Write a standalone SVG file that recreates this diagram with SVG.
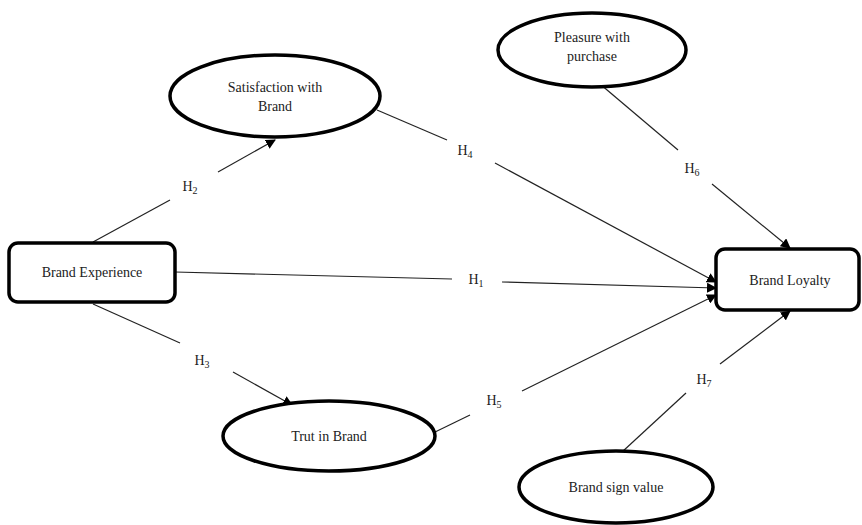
<svg xmlns="http://www.w3.org/2000/svg" width="862" height="525" viewBox="0 0 862 525">
<style>
.node{fill:#fff;stroke:#000;stroke-width:3.5}
.lbl{font-family:"Liberation Serif","DejaVu Serif",serif;font-size:14px;fill:#222;text-anchor:middle}
.h{font-family:"Liberation Serif","DejaVu Serif",serif;font-size:14px;fill:#222;text-anchor:middle}
.sub{font-size:10px}
.c{stroke:#222;stroke-width:1.2;fill:none}
</style>
<defs>
<marker id="arr" viewBox="0 0 10 10" refX="9" refY="5" markerWidth="10" markerHeight="10" markerUnits="userSpaceOnUse" orient="auto">
<path d="M0,0 L10,5 L0,10 z" fill="#000"/>
</marker>
</defs>
<rect width="862" height="525" fill="#fff"/>
<g id="connectors">
<line class="c" x1="93" y1="242" x2="170" y2="200"/>
<line class="c" x1="218" y1="172" x2="275" y2="140" marker-end="url(#arr)"/>
<line class="c" x1="93" y1="304" x2="180" y2="343"/>
<line class="c" x1="233" y1="372" x2="292" y2="405" marker-end="url(#arr)"/>
<line class="c" x1="175" y1="272" x2="452" y2="279"/>
<line class="c" x1="502" y1="282" x2="716" y2="288" marker-end="url(#arr)"/>
<line class="c" x1="377" y1="110" x2="447" y2="140"/>
<line class="c" x1="495" y1="163" x2="716" y2="282" marker-end="url(#arr)"/>
<line class="c" x1="433" y1="433" x2="470" y2="415"/>
<line class="c" x1="522" y1="391" x2="716" y2="295" marker-end="url(#arr)"/>
<line class="c" x1="600" y1="84" x2="678" y2="150"/>
<line class="c" x1="712" y1="184" x2="790" y2="248" marker-end="url(#arr)"/>
<line class="c" x1="622" y1="452" x2="686" y2="393"/>
<line class="c" x1="720" y1="364" x2="790" y2="311" marker-end="url(#arr)"/>
<text class="h" x="190" y="191">H<tspan class="sub" dy="3">2</tspan></text>
<text class="h" x="202" y="365">H<tspan class="sub" dy="3">3</tspan></text>
<text class="h" x="476" y="284">H<tspan class="sub" dy="3">1</tspan></text>
<text class="h" x="465" y="155">H<tspan class="sub" dy="3">4</tspan></text>
<text class="h" x="494" y="405">H<tspan class="sub" dy="3">5</tspan></text>
<text class="h" x="692" y="173">H<tspan class="sub" dy="3">6</tspan></text>
<text class="h" x="704" y="384">H<tspan class="sub" dy="3">7</tspan></text>
</g>
<g id="satisfaction">
<ellipse class="node" cx="275" cy="96" rx="105" ry="41"/>
<text class="lbl" x="275" y="92">Satisfaction with</text>
<text class="lbl" x="275" y="111">Brand</text>
</g>
<g id="pleasure">
<ellipse class="node" cx="592" cy="50" rx="94" ry="37"/>
<text class="lbl" x="592" y="42">Pleasure with</text>
<text class="lbl" x="592" y="61">purchase</text>
</g>
<g id="brand-experience">
<rect class="node" x="9" y="243" width="166" height="59" rx="9"/>
<text class="lbl" x="92" y="277">Brand Experience</text>
</g>
<g id="brand-loyalty">
<rect class="node" x="716" y="249" width="143" height="61" rx="9"/>
<text class="lbl" x="790" y="285">Brand Loyalty</text>
</g>
<g id="trust">
<ellipse class="node" cx="329" cy="436" rx="106" ry="35"/>
<text class="lbl" x="329" y="441">Trut in Brand</text>
</g>
<g id="sign-value">
<ellipse class="node" cx="616" cy="487" rx="97" ry="36"/>
<text class="lbl" x="616" y="492">Brand sign value</text>
</g>
</svg>
